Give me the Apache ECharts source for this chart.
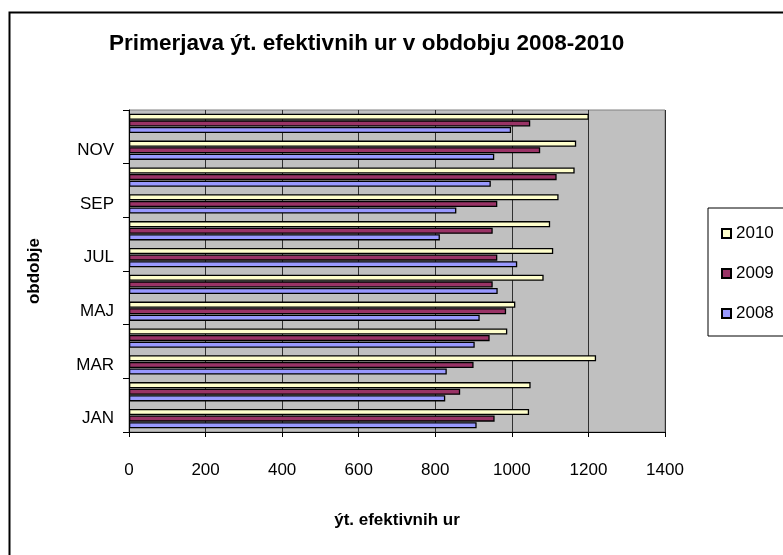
<!DOCTYPE html>
<html><head><meta charset="utf-8">
<script src="https://cdn.jsdelivr.net/npm/echarts@6/dist/echarts.min.js"></script>
<style>html,body{margin:0;padding:0;background:#fff}#c{width:783px;height:555px}</style>
</head><body><div id="c"></div>
<script>
var months = ['JAN','FEB','MAR','APR','MAJ','JUN','JUL','AVG','SEP','OKT','NOV','DEC'];
var s2008 = [908, 826, 830, 903, 916, 963, 1014, 812, 855, 945, 954, 998];
var s2009 = [955, 865, 900, 942, 985, 950, 962, 950, 962, 1117, 1074, 1048];
var s2010 = [1045, 1049, 1220, 988, 1009, 1083, 1108, 1100, 1122, 1164, 1168, 1201];
var xTicks = [0, 200, 400, 600, 800, 1000, 1200, 1400];

var FONT = '"Liberation Sans", Arial, sans-serif';
var chart = echarts.init(document.getElementById('c'));
function ser(name, data, color){
  return {name:name, type:'bar', data:data, barGap:'8%', barCategoryGap:'28%',
    itemStyle:{color:color, borderColor:'#000', borderWidth:1.3}, animation:false};
}
chart.setOption({
  animation:false,
  textStyle:{fontFamily:FONT},
  graphic:[{type:'rect', left:7, top:10, shape:{width:900, height:700},
    style:{fill:'none', stroke:'#000', lineWidth:2}, silent:true}],
  title:{text:'Primerjava ýt. efektivnih ur v obdobju 2008-2010', left:104, top:27,
    textStyle:{fontFamily:FONT, fontSize:22.5, fontWeight:'bold', color:'#000'}},
  legend:{orient:'vertical', left:708, top:208, data:['2010','2009','2008'],
    icon:'rect', itemWidth:9, itemHeight:9, itemGap:23,
    padding:[17, 60, 14, 13], borderColor:'#000', borderWidth:1,
    textStyle:{fontFamily:FONT, fontSize:17, color:'#000'}},
  grid:{left:129, right:118, top:110, bottom:123, show:true, backgroundColor:'#C0C0C0', borderColor:'#808080', borderWidth:1},
  xAxis:{type:'value', min:0, max:1400, interval:200,
    name:'ýt. efektivnih ur', nameLocation:'middle', nameGap:80,
    nameTextStyle:{fontFamily:FONT, fontSize:17, fontWeight:'bold', color:'#000'},
    axisLine:{show:true, lineStyle:{color:'#000'}},
    axisTick:{show:true, length:5, lineStyle:{color:'#000'}},
    axisLabel:{margin:30, fontFamily:FONT, fontSize:17, color:'#000',
      formatter:function(v){return xTicks.indexOf(v)>=0 ? String(v) : '';}},
    splitLine:{show:true, lineStyle:{color:'#303030', width:1}}},
  yAxis:{type:'category', data:months,
    name:'obdobje', nameLocation:'middle', nameGap:86, nameRotate:90,
    nameTextStyle:{fontFamily:FONT, fontSize:17, fontWeight:'bold', color:'#000'},
    axisLine:{show:true, lineStyle:{color:'#000'}},
    axisTick:{show:true, length:6, lineStyle:{color:'#000'}},
    axisLabel:{interval:1, margin:15, fontFamily:FONT, fontSize:17, color:'#000'},
    splitLine:{show:false}},
  series:[ser('2010', s2010, '#FFFFCC'), ser('2009', s2009, '#993366'), ser('2008', s2008, '#9999FF')]
});
</script></body></html>
